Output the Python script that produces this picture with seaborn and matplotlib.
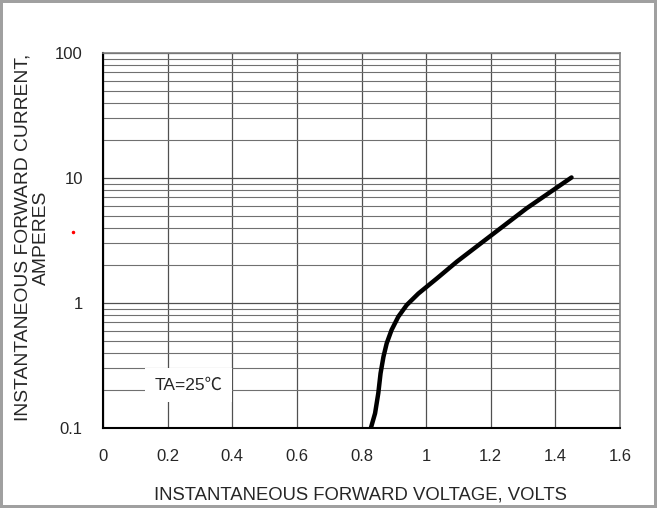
import numpy as np
import pandas as pd
import seaborn as sns
import matplotlib.pyplot as plt
from matplotlib.ticker import LogLocator, FixedLocator, NullFormatter

# forward characteristic
voltage = [0.829, 0.842, 0.852, 0.859, 0.868, 0.878, 0.893, 0.914, 0.940,
           0.976, 1.033, 1.095, 1.203, 1.311, 1.450]
current = [0.100, 0.131, 0.190, 0.274, 0.372, 0.476, 0.608, 0.778, 0.964,
           1.19, 1.57, 2.14, 3.50, 5.72, 10.1]

x_ticks = [0, 0.2, 0.4, 0.6, 0.8, 1.0, 1.2, 1.4, 1.6]
x_labels = ['0', '0.2', '0.4', '0.6', '0.8', '1', '1.2', '1.4', '1.6']
y_ticks = [0.1, 1, 10, 100]
y_labels = ['0.1', '1', '10', '100']

df = pd.DataFrame({'V': voltage, 'I': current})

sns.set_style('white')
plt.rcParams['font.family'] = ['Liberation Sans', 'DejaVu Sans']

fig = plt.figure(figsize=(6.57, 5.08), dpi=100)
fig.patch.set_edgecolor('#a0a0a0')
fig.patch.set_linewidth(3)
ax = fig.add_axes([103 / 657, 1 - 428 / 508, 517 / 657, 375 / 508])

sns.lineplot(data=df, x='V', y='I', ax=ax, color='black', linewidth=3.2,
             solid_capstyle='round', solid_joinstyle='round')

ax.set_yscale('log')
ax.set_xlim(0, 1.6)
ax.set_ylim(0.1, 100)

ax.xaxis.set_major_locator(FixedLocator(x_ticks))
ax.set_xticklabels(x_labels)
ax.yaxis.set_major_locator(FixedLocator(y_ticks))
ax.set_yticklabels(y_labels)
ax.yaxis.set_minor_locator(LogLocator(base=10, subs=np.arange(2, 10)))
ax.yaxis.set_minor_formatter(NullFormatter())

ax.grid(True, which='major', axis='both', color='#505050', linewidth=0.9)
ax.grid(True, which='minor', axis='y', color='#707070', linewidth=0.8)
ax.tick_params(axis='x', which='both', length=0, labelsize=12, pad=15)
ax.tick_params(axis='y', which='both', length=0, labelsize=12, pad=14.5)

for side in ['left', 'bottom']:
    ax.spines[side].set_color('black')
    ax.spines[side].set_linewidth(1.5)
for side in ['top', 'right']:
    ax.spines[side].set_color('#808080')
    ax.spines[side].set_linewidth(1.2)

ax.set_xlabel('INSTANTANEOUS FORWARD VOLTAGE, VOLTS', fontsize=13.3)
ax.xaxis.set_label_coords(0.497, -0.155)
ax.set_ylabel('INSTANTANEOUS FORWARD CURRENT,\nAMPERES', fontsize=13.9,
              linespacing=1.12)
ax.yaxis.set_label_coords(-0.1025, 0.508)

ax.text(0.265, 0.22, 'TA=25℃', fontsize=12.5, ha='center', va='center',
        bbox=dict(facecolor='white', edgecolor='none', pad=7),
        family=['Liberation Sans', 'Noto Sans CJK SC', 'DejaVu Sans'])

# small red speck left of the axis in the original scan
fig.add_artist(plt.Line2D([73 / 657], [1 - 232 / 508], marker='o',
                          markersize=1.5, color='red', linestyle='none'))

fig.savefig('out.png', dpi=100)
